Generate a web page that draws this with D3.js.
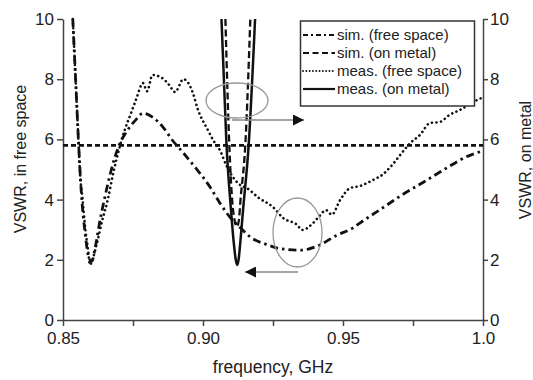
<!DOCTYPE html>
<html><head><meta charset="utf-8">
<script src="https://cdn.jsdelivr.net/npm/d3@7"></script>
<style>body{margin:0;background:#fff}svg{display:block}text{font-family:"Liberation Sans",Arial,Helvetica,sans-serif;fill:#222}</style>
</head><body><svg id="c" width="533" height="380"></svg>
<script>
// ---- data (frequency in GHz, VSWR) ----
const seriesNames = ["sim. (free space)", "sim. (on metal)", "meas. (free space)", "meas. (on metal)"];
const simFreeF = [0.8535,0.8545,0.8555,0.8565,0.858,0.8593,0.8603,0.8615,0.863,0.865,0.867,0.870,0.873,0.876,0.8786,0.882,0.8857,0.889,0.893,0.898,0.9025,0.906,0.9096,0.913,0.917,0.923,0.9275,0.935,0.9407,0.9479,0.9536,0.956,0.963,0.970,0.98,0.987,0.994,1.0];
const simFreeV = [10,8,6,4.3,2.8,2.05,1.95,2.4,3.2,4.1,4.9,5.8,6.3,6.65,6.87,6.74,6.41,5.98,5.55,4.98,4.42,3.89,3.42,3.1,2.75,2.5,2.37,2.32,2.45,2.82,3.06,3.22,3.65,4.09,4.65,5.05,5.42,5.62];
const simMetalF = [0.9080,0.9094,0.9104,0.9113,0.9121,0.9128,0.9134,0.9151,0.9169];
const simMetalV = [10,5.8,4,3.3,3.1,3.3,4,5.8,10];
const measFreeF = [0.8535,0.854,0.8545,0.855,0.8555,0.856,0.857,0.858,0.859,0.8596,0.8605,0.862,0.864,0.866,0.868,0.8704,0.872,0.874,0.876,0.8786,0.880,0.882,0.8854,0.888,0.890,0.893,0.8964,0.898,0.9018,0.9036,0.906,0.9086,0.9132,0.9157,0.920,0.925,0.9286,0.9336,0.9354,0.939,0.941,0.944,0.946,0.949,0.9525,0.956,0.9607,0.964,0.968,0.9704,0.974,0.9775,0.981,0.9846,0.988,0.9918,0.9964,1.0];
const measFreeV = [10,9,8,7,6,5,4,3,2.3,1.83,2.0,2.5,3.3,4.0,4.9,5.8,6.3,6.8,7.3,7.87,7.6,8.14,8.04,7.8,7.57,8.0,7.54,7.04,6.3,5.98,5.65,5.08,4.49,4.38,4.05,3.75,3.39,3.16,2.99,3.19,3.39,3.65,3.5,3.99,4.38,4.45,4.65,4.82,5.2,5.48,5.88,6.15,6.54,6.58,6.81,6.98,7.24,7.4];
const measMetalF = [0.9066,0.9084,0.9100,0.9110,0.9117,0.9122,0.9127,0.9133,0.9143,0.9163,0.9186];
const measMetalV = [10,5.8,3.65,2.55,2.0,1.83,2.0,2.55,3.65,5.8,10];
const thresholdV = 5.8;
const xTickValues = [0.85,0.875,0.90,0.925,0.95,0.975,1.0];
const xTickLabels = {"0.85":"0.85","0.9":"0.90","0.95":"0.95","1":"1.0"};
const yTickValues = [0,2,4,6,8,10];
const xTitle = "frequency, GHz", yLeftTitle = "VSWR, in free space", yRightTitle = "VSWR, on metal";

// ---- drawing ----
const svg = d3.select("#c");
const x = d3.scaleLinear().domain([0.85,1.0]).range([63,483]);
const y = d3.scaleLinear().domain([0,10]).range([320,19]);
const zip = (F,V)=>F.map((f,i)=>[f,V[i]]);

svg.append("defs").append("clipPath").attr("id","clip").append("rect")
  .attr("x",63).attr("y",17).attr("width",420).attr("height",303);
svg.select("defs").append("marker").attr("id","ah").attr("viewBox","0 0 10 10")
  .attr("refX",10).attr("refY",5).attr("markerWidth",11).attr("markerHeight",11)
  .attr("markerUnits","userSpaceOnUse").attr("orient","auto")
  .append("path").attr("d","M0,0L10,5L0,10z").attr("fill","#111");

const axisCol = "#444";
function styleAxis(g){
  g.selectAll("path,line").attr("stroke",axisCol).attr("stroke-width",1.5);
  g.selectAll("text").attr("fill","#222").style("font-size","17px")
   .style("font-family","'Liberation Sans',Arial,sans-serif");
}
svg.append("g").attr("transform","translate(0,320)")
  .call(d3.axisBottom(x).tickValues(xTickValues).tickSize(6).tickSizeOuter(0).tickPadding(6)
    .tickFormat(d=>xTickLabels[String(+d.toFixed(3))]||""))
  .call(styleAxis);
svg.append("g").attr("transform","translate(63,0)")
  .call(d3.axisLeft(y).tickValues(yTickValues).tickSize(6).tickSizeOuter(0).tickPadding(3).tickFormat(d3.format("d")))
  .call(styleAxis);
svg.append("g").attr("transform","translate(483,0)")
  .call(d3.axisRight(y).tickValues(yTickValues).tickSize(5).tickSizeOuter(0).tickPadding(2).tickFormat(d3.format("d")))
  .call(styleAxis);

// titles
svg.append("text").attr("x",273).attr("y",373).attr("text-anchor","middle").style("font-size","17.5px").text(xTitle);
svg.append("text").attr("transform","translate(26,159) rotate(-90)").attr("text-anchor","middle").style("font-size","16px").text(yLeftTitle);
svg.append("text").attr("transform","translate(531,160) rotate(-90)").attr("text-anchor","middle").style("font-size","16px").text(yRightTitle);

const line = d3.line().x(d=>x(d[0])).y(d=>y(d[1])).curve(d3.curveMonotoneX);
const styles = [
  {w:2.8, dash:"8,4,2.5,4", cap:"butt"},
  {w:2.3, dash:"7,3.5", cap:"butt"},
  {w:2.6, dash:"0.1,4.5", cap:"round"},
  {w:2.5, dash:null, cap:"butt"}
];
const data = [zip(simFreeF,simFreeV), zip(simMetalF,simMetalV), zip(measFreeF,measFreeV), zip(measMetalF,measMetalV)];
const plot = svg.append("g").attr("clip-path","url(#clip)");
// threshold line
plot.append("line").attr("x1",x(0.85)).attr("x2",x(1.0)).attr("y1",y(thresholdV)).attr("y2",y(thresholdV))
  .attr("stroke","#111").attr("stroke-width",2.6).attr("stroke-dasharray","5,3");
data.forEach((d,i)=>{
  plot.append("path").datum(d).attr("d",line).attr("fill","none").attr("stroke","#111")
    .attr("stroke-width",styles[i].w).attr("stroke-dasharray",styles[i].dash).attr("stroke-linecap",styles[i].cap);
});

// annotations
svg.append("ellipse").attr("cx",237).attr("cy",100.5).attr("rx",31).attr("ry",17.5)
  .attr("fill","none").attr("stroke","#999").attr("stroke-width",1.3);
svg.append("line").attr("x1",232).attr("x2",304).attr("y1",120).attr("y2",120)
  .attr("stroke","#888").attr("stroke-width",1.3).attr("marker-end","url(#ah)");
svg.append("ellipse").attr("cx",297.5).attr("cy",232.5).attr("rx",24.5).attr("ry",34.5)
  .attr("fill","none").attr("stroke","#999").attr("stroke-width",1.3);
svg.append("line").attr("x1",298).attr("x2",245).attr("y1",272).attr("y2",272)
  .attr("stroke","#888").attr("stroke-width",1.3).attr("marker-end","url(#ah)");

// legend
const lg = svg.append("g");
lg.append("rect").attr("x",300.5).attr("y",21).attr("width",174).attr("height",85)
  .attr("fill","#fff").attr("stroke","#333").attr("stroke-width",1.5);
seriesNames.forEach((n,i)=>{
  const cy = 35 + i*18;
  lg.append("line").attr("x1",303).attr("x2",335).attr("y1",cy).attr("y2",cy)
    .attr("stroke","#111").attr("stroke-width",i===2?1.8:2.2)
    .attr("stroke-dasharray", i===0?"5,3,2,3": i===1?"6,3.5": i===2?"0.1,3.2":null)
    .attr("stroke-linecap", i===2?"round":"butt");
  lg.append("text").attr("x",337).attr("y",cy).attr("dy","0.35em").style("font-size","15px").text(n);
});
</script></body></html>
